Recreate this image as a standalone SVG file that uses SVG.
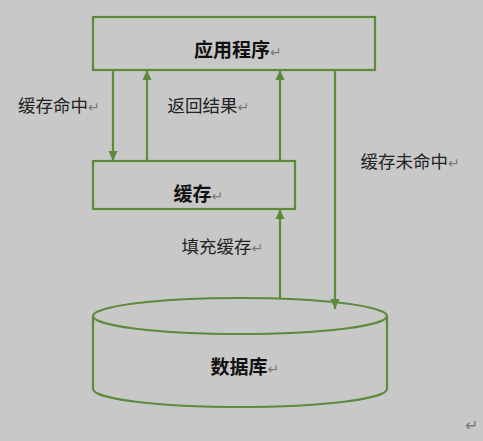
<svg xmlns="http://www.w3.org/2000/svg" width="483" height="441" viewBox="0 0 483 441">
<defs>
<style>
.box{fill:none;stroke:#5e8b3a;stroke-width:2.2}
.ln{stroke:#5e8b3a;stroke-width:2.2;fill:none}
.t{font-family:"Noto Sans CJK SC","Noto Sans CJK JP",sans-serif;font-size:17.5px;fill:#222}
.b{font-family:"Noto Sans CJK SC","Noto Sans CJK JP",sans-serif;font-size:19px;font-weight:bold;fill:#111}
.r{font-family:"DejaVu Sans",sans-serif;font-size:14px;font-weight:normal;fill:#7a7a7a}
</style>
<marker id="ah" markerUnits="userSpaceOnUse" markerWidth="10" markerHeight="12" viewBox="0 0 10 12" refX="10" refY="6" orient="auto">
<path d="M0,1.5 L10,6 L0,10.5 Z" fill="#5e8b3a"/>
</marker>
</defs>
<rect width="483" height="441" fill="#c8c8c8"/>
<g id="connectors">
<line class="ln" x1="113" y1="70" x2="113" y2="161" marker-end="url(#ah)"/>
<line class="ln" x1="147" y1="161" x2="147" y2="70" marker-end="url(#ah)"/>
<line class="ln" x1="280" y1="161" x2="280" y2="70" marker-end="url(#ah)"/>
<line class="ln" x1="335" y1="70" x2="335" y2="309" marker-end="url(#ah)"/>
<line class="ln" x1="280" y1="298.5" x2="280" y2="209" marker-end="url(#ah)"/>
<text class="t" x="18" y="111.5">缓存命中<tspan class="r">↵</tspan></text>
<text class="t" x="167.5" y="111.5">返回结果<tspan class="r">↵</tspan></text>
<text class="t" x="360.5" y="167.5">缓存未命中<tspan class="r">↵</tspan></text>
<text class="t" x="181.5" y="253">填充缓存<tspan class="r">↵</tspan></text>
</g>
<g id="app">
<rect class="box" x="93" y="17" width="282" height="53"/>
<text class="b" x="194" y="57">应用程序<tspan class="r">↵</tspan></text>
</g>
<g id="cache">
<rect class="box" x="93" y="161" width="202" height="48"/>
<text class="b" x="173.5" y="201">缓存<tspan class="r">↵</tspan></text>
</g>
<g id="db">
<path class="box" d="M93,316 L93,389 A147,18 0 0 0 387,389 L387,316"/>
<ellipse class="box" cx="240" cy="316" rx="147" ry="18"/>
<text class="b" x="210.5" y="374">数据库<tspan class="r">↵</tspan></text>
</g>
<text class="r" x="465" y="431" style="font-size:16px">↵</text>
</svg>
